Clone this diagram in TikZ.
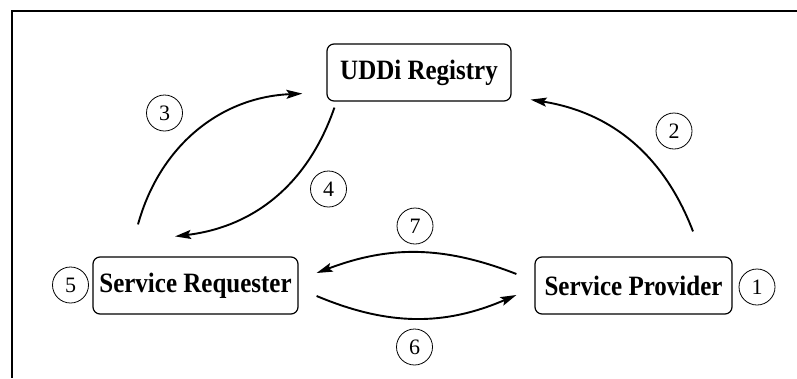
\documentclass[tikz,border=0pt]{standalone}
\usepackage{fontspec}
\usepackage{graphicx}
\setmainfont{Liberation Serif}
\usetikzlibrary{arrows.meta}
\newcommand{\tallbold}[1]{\scalebox{1}[1.12]{#1}}
\begin{document}
\begin{tikzpicture}[x=1pt,y=-1pt,
  party/.style={draw,line width=1.2pt,rounded corners=7pt,minimum height=57pt,
    inner sep=0pt,font=\bfseries\fontsize{25}{30}\selectfont},
  stepnum/.style={draw,circle,line width=0.8pt,minimum size=36pt,inner sep=0pt,
    font=\fontsize{22}{24}\selectfont},
  flow/.style={line width=1.9pt,-{Stealth[length=16pt,width=9pt,inset=3pt]}}]
  \useasboundingbox (0,0) rectangle (797,378);
  % open frame: top and left edges only
  \draw[line width=2.2pt] (797,11) -- (12,11) -- (12,378);

  % the three parties
  \node[party,minimum width=184pt] (reg)  at (419,72.5)  {\tallbold{UDDi Registry}};
  \node[party,minimum width=205pt] (req)  at (195.5,285.5) {\tallbold{Service Requester}};
  \node[party,minimum width=197pt] (prov) at (633.5,285.5) {\tallbold{Service Provider}};

  % step numbers
  \node[stepnum] (n1) at (757,287) {1};
  \node[stepnum] (n2) at (674,131) {2};
  \node[stepnum] (n3) at (164.5,113) {3};
  \node[stepnum] (n4) at (328.5,189) {4};
  \node[stepnum] (n5) at (70.5,285) {5};
  \node[stepnum] (n6) at (414.5,347) {6};
  \node[stepnum] (n7) at (415,226) {7};

  % publish, find, bind
  \draw[flow] ([shift={(59.5,-25)}]prov.north) to[bend right=30] ([shift={(19,-2)}]reg.south east);
  \draw[flow] ([shift={(-57.5,-32)}]req.north) to[bend left=36] ([shift={(-24,-8)}]reg.south west);
  \draw[flow] ([shift={(8,6)}]reg.south west) to[bend left=32] ([shift={(-20.5,-20)}]req.north);
  \draw[flow] ([shift={(-18,-11.5)}]prov.west) to[bend right=21] ([shift={(18,-12.5)}]req.east);
  \draw[flow] ([shift={(18,10.5)}]req.east) to[bend right=23] ([shift={(-18,9.5)}]prov.west);
\end{tikzpicture}
\end{document}
